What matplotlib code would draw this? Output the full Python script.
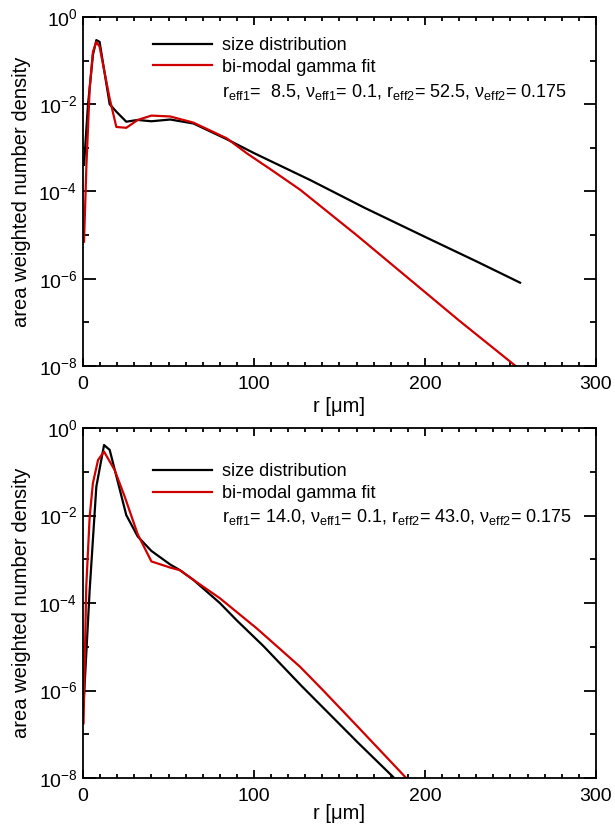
import numpy as np
import matplotlib
matplotlib.use("Agg")
import matplotlib.pyplot as plt
from matplotlib.lines import Line2D
from matplotlib.ticker import LogLocator, MultipleLocator, NullFormatter

plt.rcParams['font.family'] = ['Liberation Sans', 'DejaVu Sans']
plt.rcParams['mathtext.fontset'] = 'custom'
plt.rcParams['mathtext.rm'] = 'Liberation Sans'
plt.rcParams['mathtext.it'] = 'Liberation Sans'
plt.rcParams['mathtext.bf'] = 'Liberation Sans'

# ---- data (log10 of the density) ----
# top panel
r_top_dist = [0.6, 2.9, 5.8, 7.8, 9.7, 15.6, 19.5, 25.3, 32, 40, 51, 64.5,
              84, 100, 133, 165, 200, 230, 255.6]
lg_top_dist = [-3.39, -2.02, -0.87, -0.53, -0.57, -2.0, -2.17, -2.40, -2.36,
               -2.39, -2.35, -2.44, -2.80, -3.12, -3.74, -4.38, -5.04, -5.60,
               -6.09]
r_top_fit = [0.6, 2.0, 3.9, 5.8, 7.8, 9.7, 15.6, 19.5, 25.3, 32, 40, 51, 64.5,
             84, 96, 110, 127, 160, 190, 220, 253]
lg_top_fit = [-5.15, -3.4, -1.64, -0.8, -0.57, -0.68, -1.87, -2.52, -2.54,
              -2.36, -2.26, -2.28, -2.42, -2.78, -3.13, -3.50, -3.96, -5.0,
              -5.98, -6.96, -8.0]

# bottom panel
r_bot_dist = [0.5, 3.9, 7.8, 12.3, 15.6, 25.3, 32, 40, 51, 56.7, 64.5, 80,
              90, 105.4, 127.9, 161, 182]
lg_bot_dist = [-6.2, -3.7, -1.34, -0.39, -0.5, -1.99, -2.48, -2.81, -3.12,
               -3.25, -3.47, -4.0, -4.40, -4.98, -5.90, -7.2, -8.0]
r_bot_fit = [0.3, 1.9, 3.9, 5.8, 8.8, 12.3, 18.5, 24.4, 32, 40, 51, 56.7,
             64.5, 80, 101.6, 127, 140.5, 160, 189]
lg_bot_fit = [-6.75, -3.63, -2.03, -1.26, -0.73, -0.54, -0.96, -1.57, -2.43,
              -3.05, -3.19, -3.25, -3.47, -3.89, -4.58, -5.46, -6.0, -6.8,
              -8.0]

labels = ["size distribution", "bi-modal gamma fit"]
params_top = (r"r$_{\rm eff1}$=  8.5, ν$_{\rm eff1}$= 0.1, "
              r"r$_{\rm eff2}$= 52.5, ν$_{\rm eff2}$= 0.175")
params_bot = (r"r$_{\rm eff1}$= 14.0, ν$_{\rm eff1}$= 0.1, "
              r"r$_{\rm eff2}$= 43.0, ν$_{\rm eff2}$= 0.175")

BLACK = "black"
RED = "#d00000"

W, H = 615, 826
fig = plt.figure(figsize=(W / 100, H / 100), dpi=100)


def make_axes(top_px, bot_px):
    left, right = 83, 596
    return fig.add_axes([left / W, 1 - bot_px / H, (right - left) / W,
                         (bot_px - top_px) / H])


def style(ax, leg_y, par_y, par_text, xlab_y):
    ax.set_yscale("log")
    ax.set_xlim(0, 300)
    ax.set_ylim(1e-8, 1)
    ax.xaxis.set_major_locator(MultipleLocator(100))
    ax.xaxis.set_minor_locator(MultipleLocator(10))
    ax.yaxis.set_major_locator(LogLocator(base=100))
    ax.yaxis.set_minor_locator(LogLocator(base=10, subs=[1.0], numticks=20))
    ax.yaxis.set_minor_formatter(NullFormatter())
    ax.tick_params(which="both", direction="in", top=True, right=True,
                   width=1.3, labelsize=14)
    ax.tick_params(axis="x", which="major", length=6, pad=7)
    ax.tick_params(axis="x", which="minor", length=3)
    ax.tick_params(axis="y", which="major", length=9, pad=4)
    ax.tick_params(axis="y", which="minor", length=4)
    for s in ax.spines.values():
        s.set_linewidth(1.3)
    ax.set_xlabel(r"r [μm]", fontsize=14.5)
    ax.set_ylabel("area weighted number density", fontsize=14.5)
    ax.yaxis.set_label_coords(-0.101, 0.5)
    ax.xaxis.set_label_coords(0.5, xlab_y)

    handles = [Line2D([], [], color=BLACK, lw=1.6),
               Line2D([], [], color=RED, lw=1.6)]
    ax.legend(handles, labels, loc="upper left",
              bbox_to_anchor=(0.1365, leg_y), frameon=False, fontsize=13,
              borderpad=0, borderaxespad=0, handlelength=3.28,
              handletextpad=0.55, labelspacing=0.26)
    ax.text(0.271, par_y, par_text, transform=ax.transAxes, fontsize=13,
            va="center", ha="left")


ax1 = make_axes(17, 366)
ax1.plot(r_top_dist, 10 ** np.array(lg_top_dist), color=BLACK, lw=1.6)
ax1.plot(r_top_fit, 10 ** np.array(lg_top_fit), color=RED, lw=1.6)
style(ax1, 0.943, 0.786, params_top, -0.089)

ax2 = make_axes(428, 778)
ax2.plot(r_bot_dist, 10 ** np.array(lg_bot_dist), color=BLACK, lw=1.6)
ax2.plot(r_bot_fit, 10 ** np.array(lg_bot_fit), color=RED, lw=1.6)
style(ax2, 0.899, 0.747, params_bot, -0.075)

fig.savefig("out.png", dpi=100)
